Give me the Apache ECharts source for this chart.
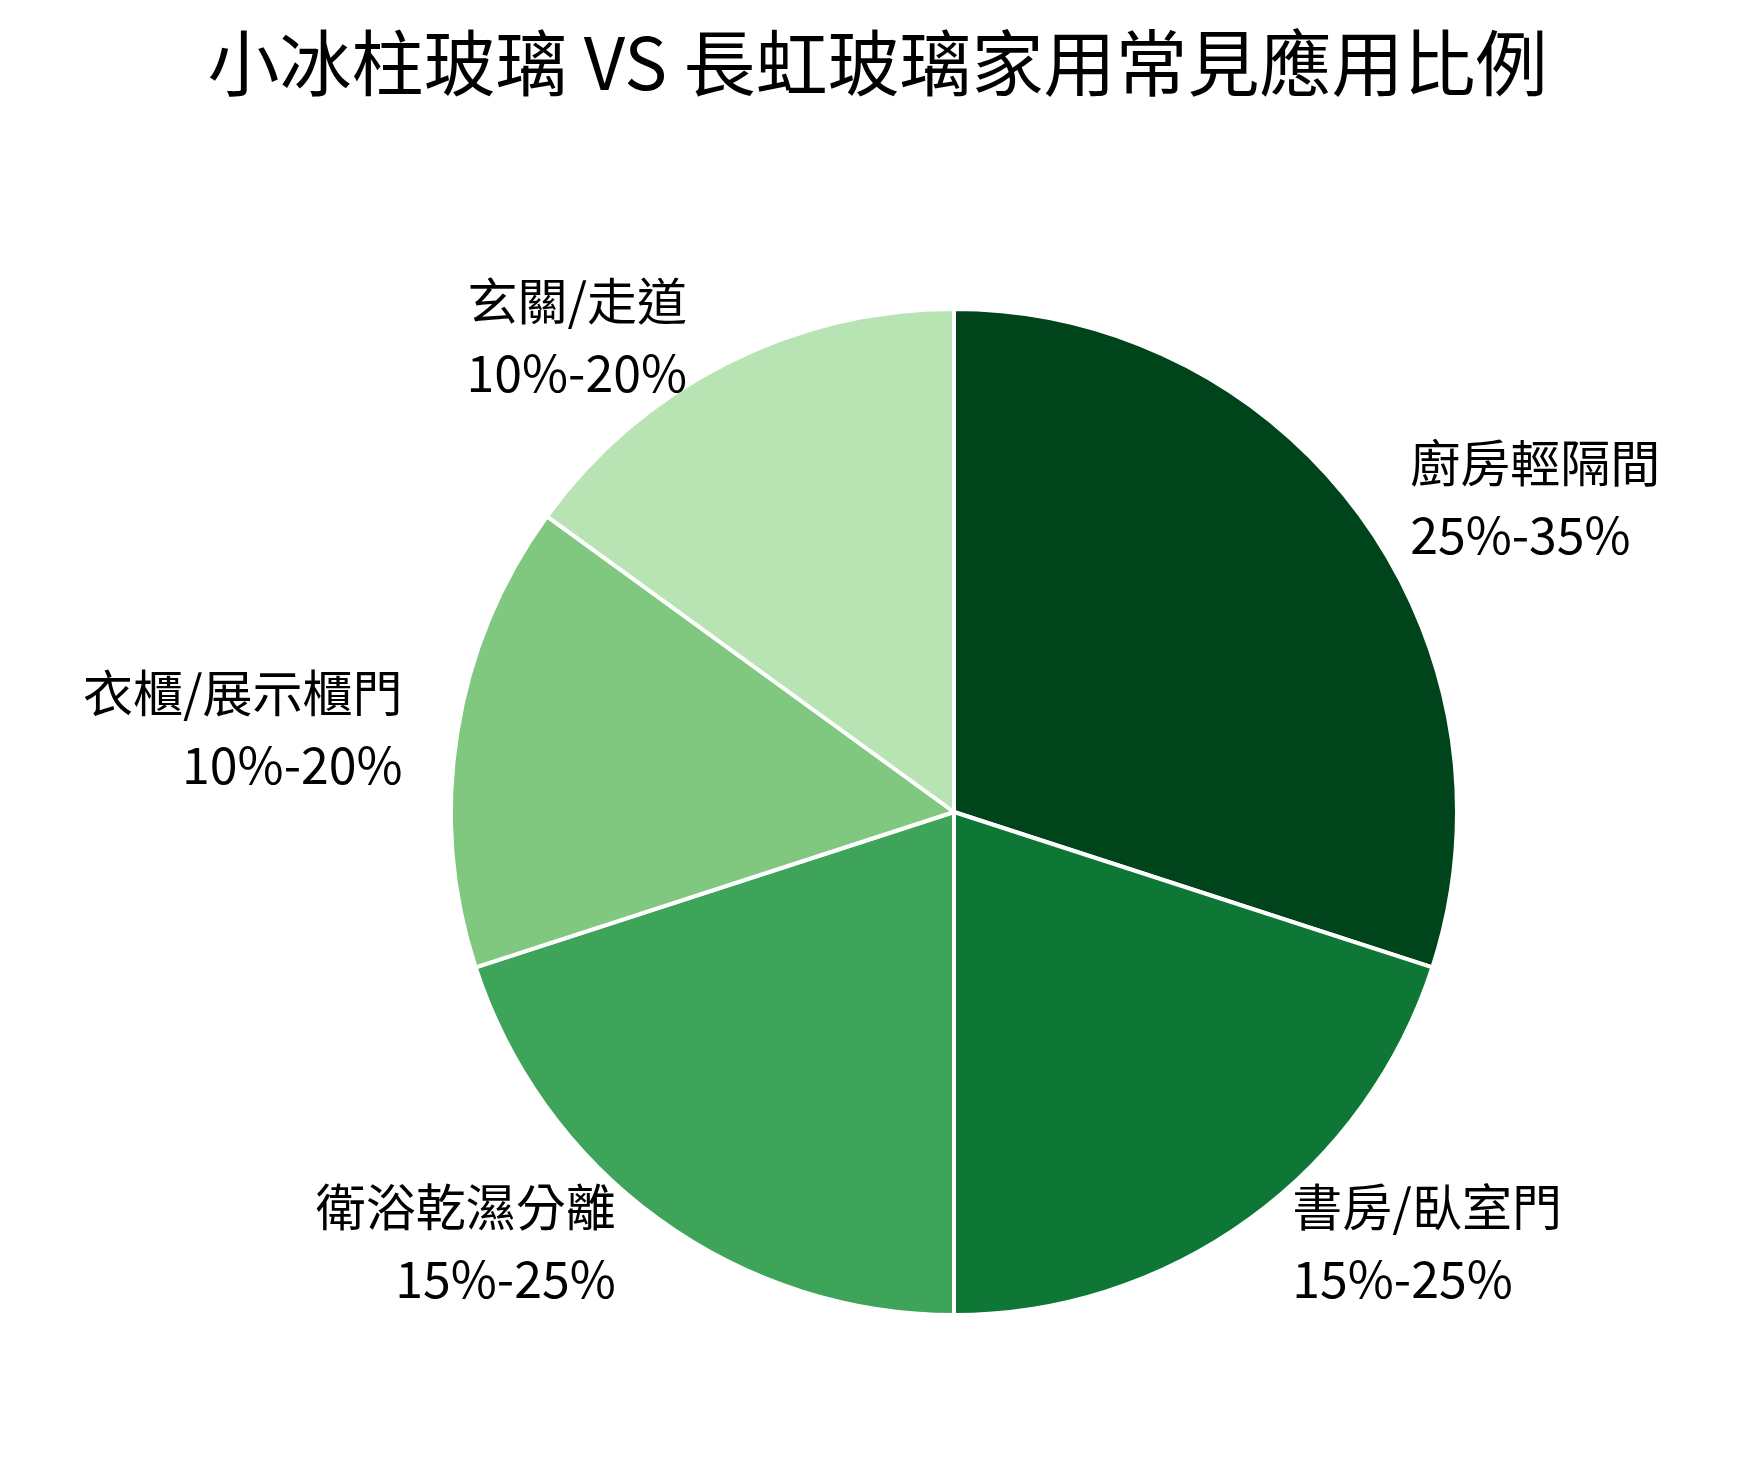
<!DOCTYPE html>
<html><head><meta charset="utf-8">
<script src="https://cdn.jsdelivr.net/npm/echarts@6/dist/echarts.min.js"></script>
<style>html,body{margin:0;background:#fff}#c{width:1755px;height:1468px}</style>
</head><body><div id="c"></div>
<script>
const categories = ['廚房輕隔間','書房/臥室門','衛浴乾濕分離','衣櫃/展示櫃門','玄關/走道'];
const ranges = ['25%-35%','15%-25%','15%-25%','10%-20%','10%-20%'];
const values = [30,20,20,15,15];
const colors = ['#00441b','#0e7735','#3da45a','#80c77f','#b8e3b2'];
const chart = echarts.init(document.getElementById('c'));
chart.setOption({
  backgroundColor:'#fff',
  title:{text:'小冰柱玻璃 VS 長虹玻璃家用常見應用比例',left:'center',top:22,
    textStyle:{fontFamily:'Noto Sans CJK TC',fontSize:72,fontWeight:'normal',color:'#000'}},
  series:[{type:'pie',center:[954,812],radius:[0,503],startAngle:90,clockwise:true,
    data:categories.map((c,i)=>({name:c,value:values[i],range:ranges[i],itemStyle:{color:colors[i]}})),
    itemStyle:{borderColor:'#fff',borderWidth:4},
    label:{show:true,position:'outside',formatter:p=>p.name+'\n'+p.data.range,
      fontFamily:'Noto Sans CJK TC',fontSize:50,lineHeight:72,color:'#000'},
    labelLine:{show:false,length:30,length2:20},
    emphasis:{disabled:true},animation:false}]
});
</script></body></html>
